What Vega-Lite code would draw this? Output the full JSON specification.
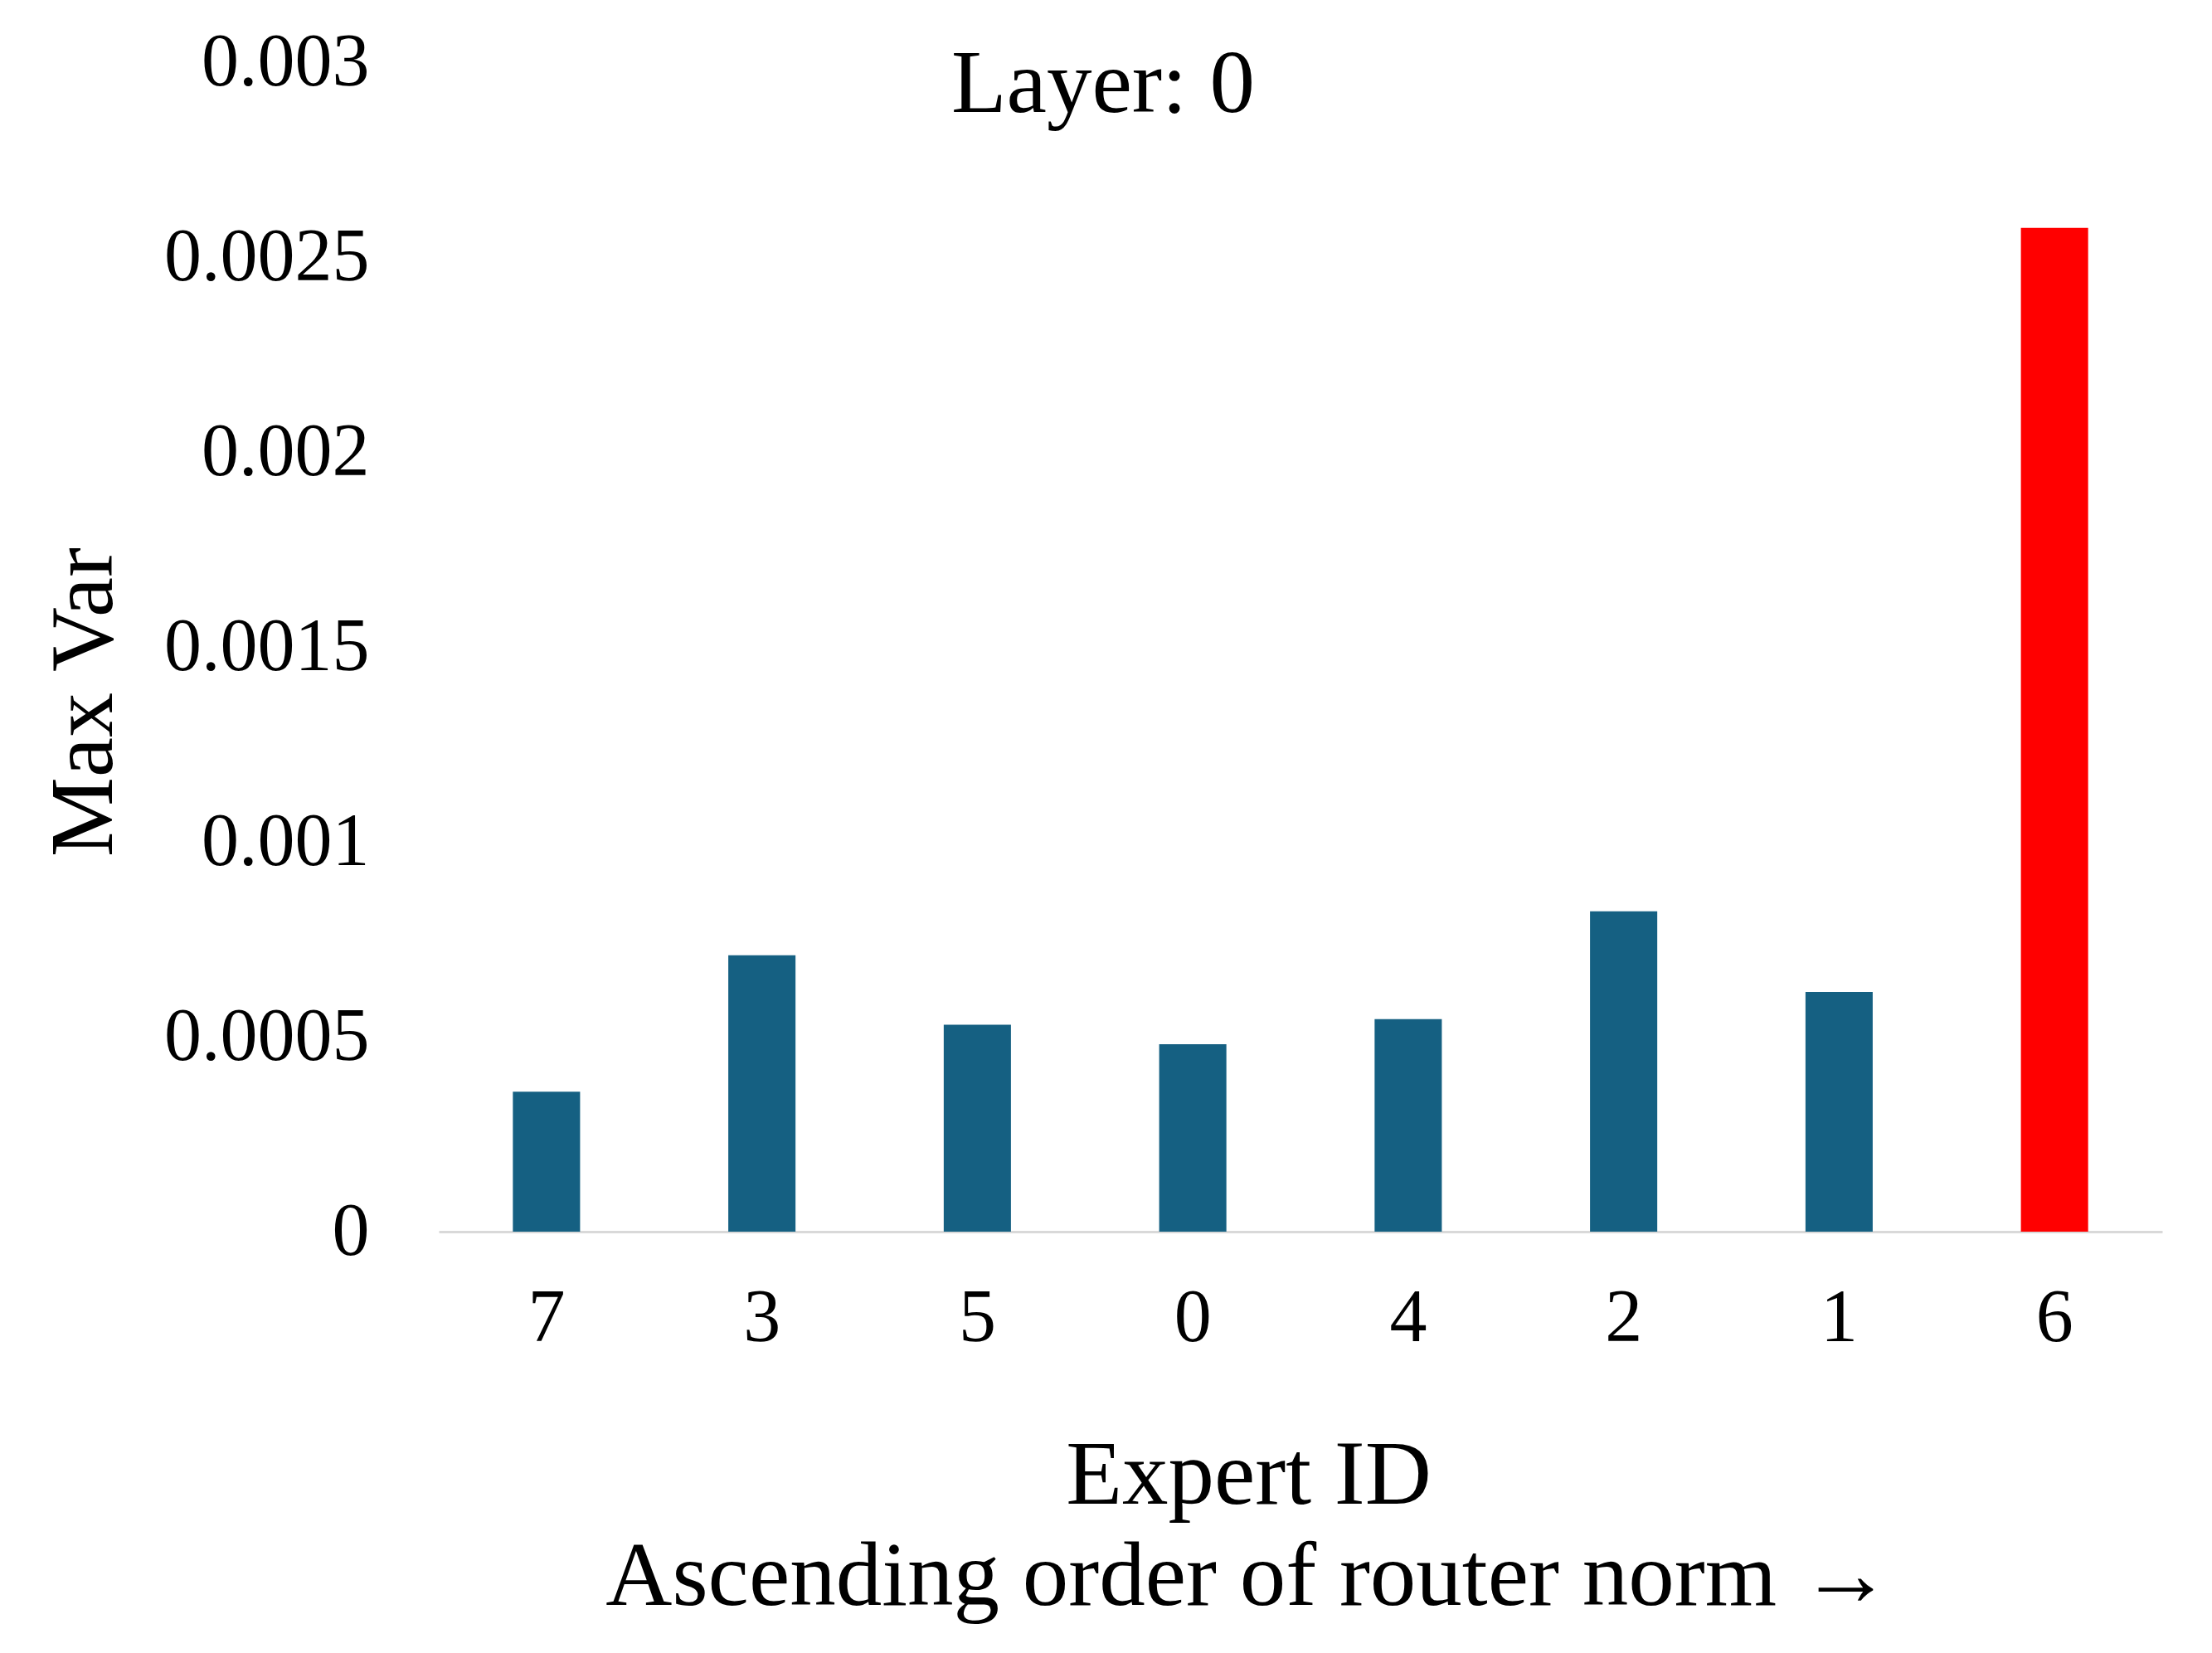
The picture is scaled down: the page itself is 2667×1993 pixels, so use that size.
{
  "$schema": "https://vega.github.io/schema/vega-lite/v6.json",
  "autosize": {"type": "none"},
  "width": 2078,
  "height": 1410,
  "padding": {"left": 529, "top": 75, "right": 60, "bottom": 508},
  "background": "white",
  "title": {
    "text": "Layer: 0",
    "font": "Liberation Serif",
    "fontSize": 109,
    "fontWeight": "normal",
    "color": "black",
    "anchor": "middle",
    "dx": -238,
    "offset": -128
  },
  "data": {
    "values": [
      {"expert": "7", "maxvar": 0.000359, "highlight": "no"},
      {"expert": "3", "maxvar": 0.000709, "highlight": "no"},
      {"expert": "5", "maxvar": 0.000531, "highlight": "no"},
      {"expert": "0", "maxvar": 0.000481, "highlight": "no"},
      {"expert": "4", "maxvar": 0.000545, "highlight": "no"},
      {"expert": "2", "maxvar": 0.000822, "highlight": "no"},
      {"expert": "1", "maxvar": 0.000615, "highlight": "no"},
      {"expert": "6", "maxvar": 0.002575, "highlight": "yes"}
    ]
  },
  "mark": {"type": "bar"},
  "encoding": {
    "x": {
      "field": "expert",
      "type": "ordinal",
      "sort": null,
      "scale": {"paddingInner": 0.688, "paddingOuter": 0.344},
      "axis": {
        "title": ["Expert ID", "Ascending order of router norm →"],
        "titleFont": "Liberation Serif",
        "titleFontSize": 111,
        "titleFontWeight": "normal",
        "titleColor": "black",
        "titleLineHeight": 122,
        "titlePadding": 90,
        "titleX": 976,
        "titleLimit": 0,
        "labelFont": "Liberation Serif",
        "labelFontSize": 90,
        "labelColor": "black",
        "labelAngle": 0,
        "labelPadding": 60,
        "ticks": false,
        "domainColor": "#d9d9d9",
        "domainWidth": 3
      }
    },
    "y": {
      "field": "maxvar",
      "type": "quantitative",
      "scale": {"domain": [0, 0.003], "nice": false},
      "axis": {
        "title": "Max Var",
        "values": [0, 0.0005, 0.001, 0.0015, 0.002, 0.0025, 0.003],
        "format": "~g",
        "titleFont": "Liberation Serif",
        "titleFontSize": 108,
        "titleFontWeight": "normal",
        "titleColor": "black",
        "titleX": -427,
        "titleY": 771,
        "titleBaseline": "middle",
        "titleLimit": 0,
        "labelFont": "Liberation Serif",
        "labelFontSize": 90,
        "labelColor": "black",
        "labelPadding": 84,
        "labelLimit": 0,
        "ticks": false,
        "domain": false,
        "grid": false
      }
    },
    "color": {
      "field": "highlight",
      "type": "nominal",
      "scale": {"domain": ["no", "yes"], "range": ["#156082", "#ff0000"]},
      "legend": null
    }
  },
  "config": {
    "view": {"stroke": null}
  }
}
